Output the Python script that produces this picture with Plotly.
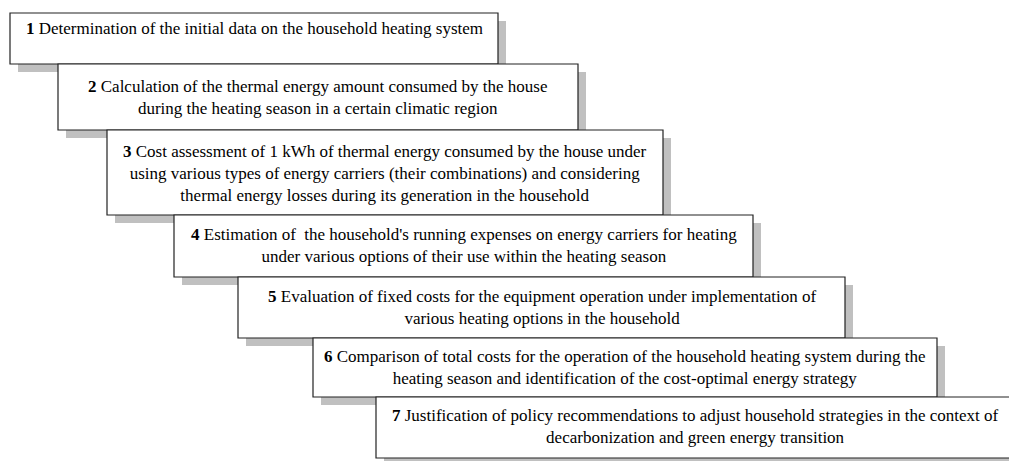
import plotly.graph_objects as go

# Step texts (bold number + description)
step_numbers = ["1", "2", "3", "4", "5", "6", "7"]
step_texts = [
    "Determination of the initial data on the household heating system",
    "Calculation of the thermal energy amount consumed by the house<br>during the heating season in a certain climatic region",
    "Cost assessment of 1 kWh of thermal energy consumed by the house under<br>using various types of energy carriers (their combinations) and considering<br>thermal energy losses during its generation in the household",
    "Estimation of  the household's running expenses on energy carriers for heating<br>under various options of their use within the heating season",
    "Evaluation of fixed costs for the equipment operation under implementation of<br>various heating options in the household",
    "Comparison of total costs for the operation of the household heating system during the<br>heating season and identification of the cost-optimal energy strategy",
    "Justification of policy recommendations to adjust household strategies in the context of<br>decarbonization and green energy transition",
]

# Box geometry (pixel coordinates)
box_left = [10, 58, 107, 174, 238, 313, 376]
box_right = [498, 578, 663, 753, 845, 937, 1014]
box_top = [13, 64, 130, 215, 277, 338, 397]
box_bottom = [64, 130, 215, 277, 338, 397, 458]
text_y = [28, 97, 173, 245, 307, 367, 426]

W, H = 1009, 461
SH = 8  # shadow offset
FONT = "Liberation Serif"

fig = go.Figure()
shapes = []
annotations = []
for i in range(len(step_numbers)):
    # shadow
    shapes.append(dict(type="rect", xref="x", yref="y",
                       x0=box_left[i] + SH, x1=box_right[i] + SH,
                       y0=box_top[i] + SH, y1=box_bottom[i] + SH,
                       fillcolor="#c0c0c0", line=dict(width=0), layer="above"))
    # box
    shapes.append(dict(type="rect", xref="x", yref="y",
                       x0=box_left[i], x1=box_right[i],
                       y0=box_top[i], y1=box_bottom[i],
                       fillcolor="white", line=dict(color="#222222", width=1.2), layer="above"))
    annotations.append(dict(
        x=(box_left[i] + box_right[i]) / 2, y=text_y[i], xref="x", yref="y",
        text="<b>" + step_numbers[i] + "</b> " + step_texts[i],
        showarrow=False, align="center", xanchor="center", yanchor="middle",
        font=dict(family=FONT, size=17, color="black")))

fig.update_layout(
    width=W, height=H,
    margin=dict(l=0, r=0, t=0, b=0),
    paper_bgcolor="white", plot_bgcolor="white",
    font=dict(family=FONT),
    xaxis=dict(range=[0, W], visible=False, fixedrange=True),
    yaxis=dict(range=[H, 0], visible=False, fixedrange=True),
    shapes=shapes, annotations=annotations, showlegend=False,
)
fig.write_html("out.html", config={"displayModeBar": False},
               post_script="document.body.style.margin='0';document.body.style.overflow='hidden';")
